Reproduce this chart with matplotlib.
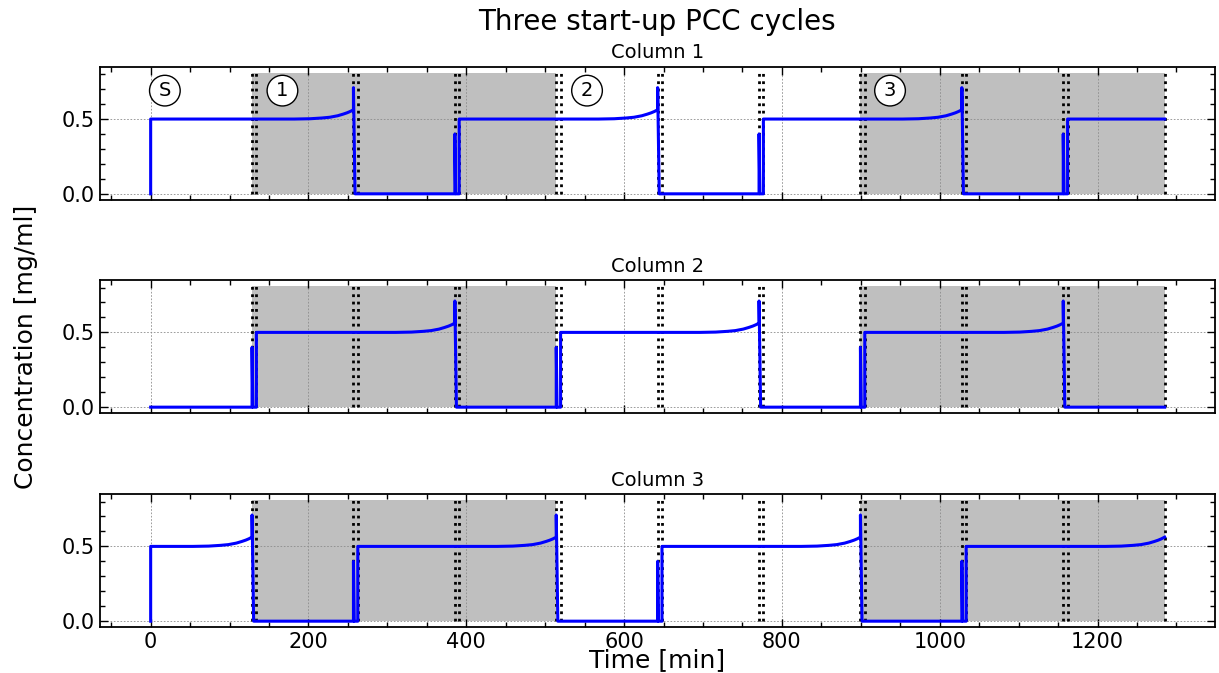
import matplotlib
matplotlib.use("Agg")
import matplotlib.pyplot as plt
from matplotlib.ticker import MultipleLocator

# switching times of the PCC schedule [min] and the wash step after each switch
switch_times = [0, 128.5, 257, 385.5, 514, 642.5, 771, 899.5, 1028, 1156.5, 1285]
wash_time = 5.5
shaded_cycles = [(128.5, 514), (899.5, 1285)]
cycle_labels = ["S", "1", "2", "3"]
label_times = [18, 167, 553, 937]
label_level = 0.69

# plateau and peaks of the outlet signal [mg/ml]
plateau = 0.5
breakthrough_peak = 0.71
regen_peak = 0.40
box_top = 0.81

# shape of the breakthrough rise before the end of a load (time offset, concentration)
rise_offsets = [-75, -55, -40, -30, -20, -13, -8, -4, 0]
rise_values = [0.5, 0.502, 0.507, 0.512, 0.522, 0.533, 0.542, 0.551, 0.562]

# load windows per column: start, end, rising end, breakthrough peak at end
col1_start = [0, 391, 776.5, 1162]
col1_end = [257, 642.5, 1028, 1285]
col1_rise = [True, True, True, False]
col1_peak = [True, True, True, False]

col2_start = [134, 519.5, 905]
col2_end = [385.5, 771, 1156.5]
col2_rise = [True, True, True]
col2_peak = [True, True, True]

col3_start = [0, 262.5, 648, 1033.5]
col3_end = [128.5, 514, 899.5, 1285]
col3_rise = [True, True, True, True]
col3_peak = [True, True, True, False]


def column_trace(starts, ends, rises, peaks):
    t, c = [0.0], [0.0]
    for s, e, r, p in zip(starts, ends, rises, peaks):
        if s > 0:
            ts = s - wash_time
            t += [ts, ts, ts + 1, s]
            c += [0, regen_peak, 0, 0]
        t.append(s)
        c.append(plateau)
        if r:
            t += [e + o for o in rise_offsets]
            c += rise_values
        else:
            t.append(e)
            c.append(plateau)
        if p:
            t += [e, e + 2]
            c += [breakthrough_peak, 0]
    if c[-1] == 0:
        t.append(switch_times[-1])
        c.append(0)
    return t, c


columns = [
    ("Column 1", column_trace(col1_start, col1_end, col1_rise, col1_peak)),
    ("Column 2", column_trace(col2_start, col2_end, col2_rise, col2_peak)),
    ("Column 3", column_trace(col3_start, col3_end, col3_rise, col3_peak)),
]

fig = plt.figure(figsize=(12.19, 6.73), dpi=100)
left, width, height = 0.082, 0.915, 0.198
bottoms = [0.703, 0.386, 0.068]

axes = []
for i, (name, (t, c)) in enumerate(columns):
    ax = fig.add_axes([left, bottoms[i], width, height], sharex=axes[0] if axes else None)
    axes.append(ax)
    for a, b in shaded_cycles:
        ax.fill_between([a, b], 0, box_top, color="#bfbfbf", linewidth=0)
    for ts in switch_times[1:-1]:
        ax.vlines([ts, ts + wash_time], 0, box_top, colors="black", linestyles=":", linewidth=2)
    ax.vlines(switch_times[-1], 0, box_top, colors="black", linestyles=":", linewidth=2)
    ax.plot(t, c, color="blue", linewidth=2.2)
    ax.set_title(name, fontsize=14)
    ax.grid(True, which="major", color="0.55", linestyle=(0, (2, 2)), linewidth=0.6)
    ax.xaxis.set_major_locator(MultipleLocator(200))
    ax.xaxis.set_minor_locator(MultipleLocator(50))
    ax.yaxis.set_major_locator(MultipleLocator(0.5))
    ax.yaxis.set_minor_locator(MultipleLocator(0.1))
    ax.tick_params(which="both", direction="in", top=True, right=True, labelsize=15)
    ax.tick_params(which="major", length=6, width=1)
    ax.tick_params(which="minor", length=3.5, width=1)
    for sp in ax.spines.values():
        sp.set_linewidth(1.3)
    if i < 2:
        ax.tick_params(labelbottom=False)

# cycle markers on the first column
for lab, x in zip(cycle_labels, label_times):
    axes[0].text(x, label_level, lab, fontsize=14, ha="center", va="center", zorder=5,
                 bbox=dict(boxstyle="circle,pad=0.3", facecolor="white", edgecolor="black", linewidth=1))

fig.text(0.539, 0.967, "Three start-up PCC cycles", fontsize=20, ha="center", va="center")
fig.text(0.539, 0.019, "Time [min]", fontsize=18, ha="center", va="center")
fig.text(0.021, 0.484, "Concentration [mg/ml]", fontsize=18, ha="center", va="center", rotation=90)

fig.savefig("out.png", dpi=100)
